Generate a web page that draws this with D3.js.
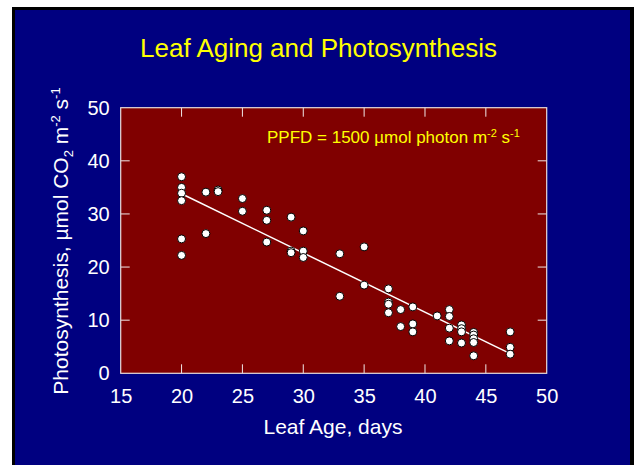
<!DOCTYPE html>
<html>
<head>
<meta charset="utf-8">
<script src="https://cdn.jsdelivr.net/npm/d3@7"></script>
<style>
    html, body { margin: 0; padding: 0; background: #ffffff; }
    svg { display: block; font-family: 'Liberation Sans', Arial, sans-serif; }
</style>
</head>
<body>
<div id="chart"></div>
<script>
// leaf age (days) and photosynthesis rate
const ageDays = [
    20, 20, 20, 20, 20, 20,
    22, 22, 23, 23, 25, 25,
    27, 27, 27, 29, 29, 29,
    30, 30, 30, 33, 33, 35, 35,
    37, 37, 37, 37, 38, 38,
    39, 39, 39, 41,
    42, 42, 42, 42, 43, 43, 43, 43,
    44, 44, 44, 44, 44, 47, 47, 47,
];
const photoRate = [
    37.0, 35.0, 33.9, 32.5, 25.3, 22.2,
    34.1, 26.3, 34.5, 34.2, 32.9, 30.5,
    30.7, 28.8, 24.7, 29.4, 23.0, 22.7,
    26.8, 23.0, 21.8, 22.5, 14.5, 23.8, 16.6,
    15.9, 13.4, 13.0, 11.4, 12.0, 8.8,
    12.5, 9.3, 7.8, 10.8,
    12.0, 10.7, 8.5, 6.1, 9.1, 8.4, 7.8, 5.7,
    7.7, 7.2, 6.5, 5.8, 3.3, 7.8, 4.9, 3.6,
];

// fitted regression line end points
const fitDays = [20, 47];
const fitRates = [33.8, 3.7];

const xTicks = [15, 20, 25, 30, 35, 40, 45, 50];
const yTicks = [0, 10, 20, 30, 40, 50];

const width = 634;
const height = 465;
const plot = { left: 120.7, right: 546.7, top: 107.7, bottom: 373.3 };

const svg = d3.select('#chart')
    .append('svg')
    .attr('width', width)
    .attr('height', height);

// slide background
svg.append('rect')
    .attr('x', 13.5)
    .attr('y', 8.5)
    .attr('width', width)
    .attr('height', height)
    .style('fill', '#000080')
    .style('stroke', '#000000')
    .style('stroke-width', 3);

svg.append('rect')
    .attr('x', 630)
    .attr('y', 7)
    .attr('width', 4)
    .attr('height', height)
    .style('fill', '#000000');

const x = d3.scaleLinear()
    .domain([15, 50])
    .range([plot.left, plot.right]);

const y = d3.scaleLinear()
    .domain([0, 50])
    .range([plot.bottom, plot.top]);

svg.append('rect')
    .attr('x', plot.left)
    .attr('y', plot.top)
    .attr('width', plot.right - plot.left)
    .attr('height', plot.bottom - plot.top)
    .style('fill', '#800000');

// inward ticks on all four sides
const tickLen = 9;
const innerX = xTicks.slice(1, -1);
const innerY = yTicks.slice(1, -1);

const axisBottom = d3.axisBottom(x).tickValues(xTicks).tickSize(0).tickPadding(11);
const axisLeft = d3.axisLeft(y).tickValues(yTicks).tickSize(0).tickPadding(11);

const gx = svg.append('g')
    .attr('transform', 'translate(0,' + plot.bottom + ')')
    .call(axisBottom);
const gy = svg.append('g')
    .attr('transform', 'translate(' + plot.left + ',0)')
    .call(axisLeft);

[gx, gy].forEach((g) => {
    g.select('.domain').remove();
    g.selectAll('text')
        .style('fill', '#ffffff')
        .style('font-size', '20px')
        .style('font-family', "'Liberation Sans', Arial, sans-serif");
});
gx.selectAll('text').attr('dy', '0.71em').attr('y', 16);

const ticks = svg.append('g')
    .style('stroke', '#f0e8e8')
    .style('stroke-width', 1);

innerX.forEach((d) => {
    ticks.append('line')
        .attr('x1', x(d)).attr('x2', x(d))
        .attr('y1', plot.bottom).attr('y2', plot.bottom - tickLen);
    ticks.append('line')
        .attr('x1', x(d)).attr('x2', x(d))
        .attr('y1', plot.top).attr('y2', plot.top + tickLen);
});
innerY.forEach((d) => {
    ticks.append('line')
        .attr('x1', plot.left).attr('x2', plot.left + tickLen)
        .attr('y1', y(d)).attr('y2', y(d));
    ticks.append('line')
        .attr('x1', plot.right).attr('x2', plot.right - tickLen)
        .attr('y1', y(d)).attr('y2', y(d));
});

svg.append('rect')
    .attr('x', plot.left)
    .attr('y', plot.top)
    .attr('width', plot.right - plot.left)
    .attr('height', plot.bottom - plot.top)
    .style('fill', 'none')
    .style('stroke', '#e8dcdc')
    .style('stroke-width', 1.2);

// regression line
const line = d3.line()
    .x((d) => x(d[0]))
    .y((d) => y(d[1]));

svg.append('path')
    .datum(fitDays.map((d, i) => [d, fitRates[i]]))
    .attr('d', line)
    .style('fill', 'none')
    .style('stroke', '#ffffff')
    .style('stroke-width', 1.5);

svg.selectAll('.dot')
    .data(ageDays.map((d, i) => [d, photoRate[i]]))
    .enter()
    .append('circle')
    .attr('class', 'dot')
    .attr('cx', (d) => x(d[0]))
    .attr('cy', (d) => y(d[1]))
    .attr('r', 4)
    .style('fill', '#ffffff')
    .style('stroke', '#000000')
    .style('stroke-width', 1);

// titles and labels
svg.append('text')
    .attr('x', 140)
    .attr('y', 57)
    .style('fill', '#ffff00')
    .style('font-size', '26px')
    .text('Leaf Aging and Photosynthesis');

const ppfd = svg.append('text')
    .attr('x', 267)
    .attr('y', 143)
    .style('fill', '#ffff00')
    .style('font-size', '17px');
ppfd.append('tspan').text('PPFD = 1500 µmol photon m');
ppfd.append('tspan').attr('dy', -6).style('font-size', '11px').text('-2');
ppfd.append('tspan').attr('dy', 6).text(' s');
ppfd.append('tspan').attr('dy', -6).style('font-size', '11px').text('-1');

svg.append('text')
    .attr('x', 333)
    .attr('y', 434)
    .attr('text-anchor', 'middle')
    .style('fill', '#ffffff')
    .style('font-size', '21px')
    .text('Leaf Age, days');

const ylab = svg.append('text')
    .attr('transform', 'translate(68,241) rotate(-90)')
    .attr('text-anchor', 'middle')
    .style('fill', '#ffffff')
    .style('font-size', '21px');
ylab.append('tspan').text('Photosynthesis, µmol CO');
ylab.append('tspan').attr('dy', 5).style('font-size', '13px').text('2');
ylab.append('tspan').attr('dy', -5).text(' m');
ylab.append('tspan').attr('dy', -8).style('font-size', '13px').text('-2');
ylab.append('tspan').attr('dy', 8).text(' s');
ylab.append('tspan').attr('dy', -8).style('font-size', '13px').text('-1');
</script>
</body>
</html>
